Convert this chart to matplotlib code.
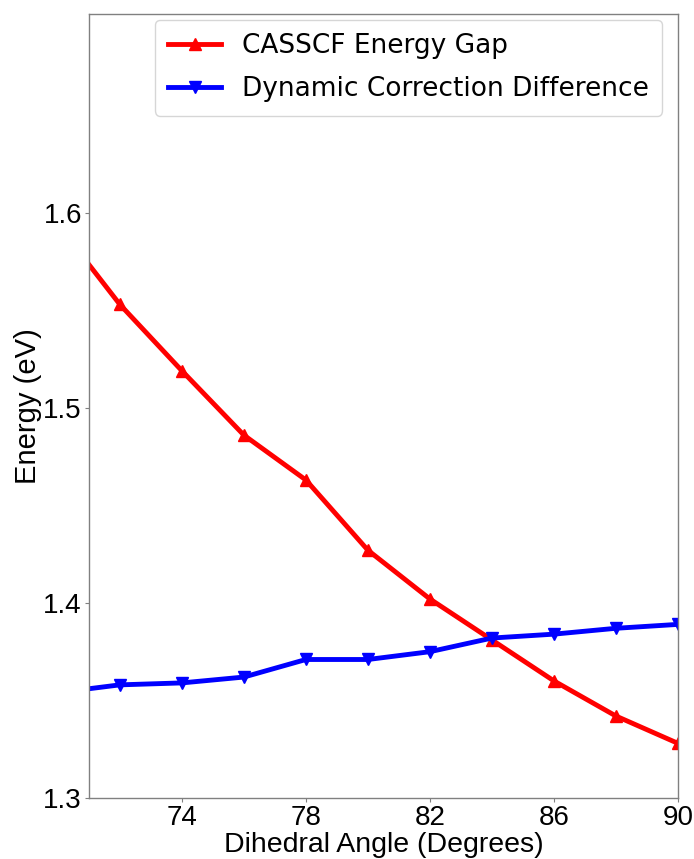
import matplotlib
matplotlib.use("Agg")
import matplotlib.pyplot as plt

# dihedral angle scan
angles = [70, 72, 74, 76, 78, 80, 82, 84, 86, 88, 90]
casscf_gap = [1.594, 1.553, 1.519, 1.486, 1.463, 1.427, 1.402, 1.381, 1.360, 1.342, 1.328]
dyn_corr_diff = [1.354, 1.358, 1.359, 1.362, 1.371, 1.371, 1.375, 1.382, 1.384, 1.387, 1.389]

xticks = [74, 78, 82, 86, 90]
yticks = [1.3, 1.4, 1.5, 1.6]

fig = plt.figure(figsize=(6.94, 8.59), dpi=100)
ax = fig.add_axes([0.128, 0.071, 0.849, 0.913])

ax.plot(angles, casscf_gap, color='red', marker='^', markersize=8, linewidth=3.5,
        label='CASSCF Energy Gap')
ax.plot(angles, dyn_corr_diff, color='blue', marker='v', markersize=8, linewidth=3.5,
        label='Dynamic Correction Difference')

ax.set_xlim(71, 90)
ax.set_ylim(1.3, 1.702)
ax.set_xticks(xticks)
ax.set_yticks(yticks)
ax.set_xticklabels([str(t) for t in xticks], fontsize=20, family='Liberation Sans')
ax.set_yticklabels(['%.1f' % t for t in yticks], fontsize=20, family='Liberation Sans')
ax.set_xlabel('Dihedral Angle (Degrees)', fontsize=20.5, family='Liberation Sans', labelpad=1)
ax.set_ylabel('Energy (eV)', fontsize=21, family='Liberation Sans', labelpad=1)

for s in ax.spines.values():
    s.set_color('#808080')
    s.set_linewidth(1)
ax.tick_params(colors='#808080', labelcolor='black', length=3, pad=2)

ax.legend(loc='upper right', bbox_to_anchor=(0.973, 0.992), borderaxespad=0,
          fontsize=19, handlelength=2, labelspacing=0.65, borderpad=0.5)

fig.savefig('out.png', dpi=100)
